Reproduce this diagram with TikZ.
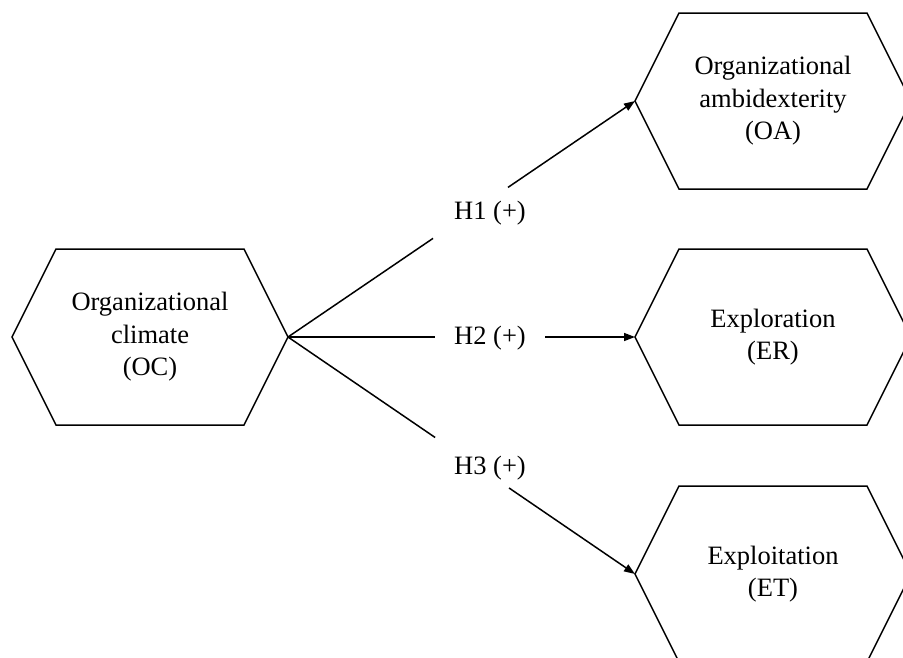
\documentclass[tikz,border=0pt]{standalone}
\usepackage{fontspec}
\setmainfont{Liberation Serif}
\usetikzlibrary{arrows.meta,calc}
\tikzset{
  hexline/.style={draw=black, line width=1.5pt, line join=miter},
  hextext/.style={align=center, font=\fontsize{26.5}{32.5}\selectfont, inner sep=0pt},
  conn/.style={line width=1.5pt},
  arr/.style={conn, -{Triangle[length=11pt,width=8pt]}},
  hlabel/.style={font=\fontsize{26.5}{32}\selectfont, inner sep=0pt},
}
\newcommand\hexshape[4]{%
  \node[hextext] (#1) at (#2,#3) {#4};
  \coordinate (#1-l) at (#2-138,#3);
  \coordinate (#1-r) at (#2+138,#3);
  \draw[hexline] (#1-l) -- ++(44,-88) -- ++(188,0) -- (#1-r) -- ++(-44,88) -- ++(-188,0) -- cycle;
}
\begin{document}
\begin{tikzpicture}[x=1pt,y=-1pt]
  \useasboundingbox (0,0) rectangle (903,657);
  \clip (0,0) rectangle (903,657);
  \fill[white] (0,0) rectangle (903,657);
  \hexshape{oc}{150}{337}{Organizational\\climate\\(OC)}
  \hexshape{oa}{773}{101}{Organizational\\ambidexterity\\(OA)}
  \hexshape{er}{773}{337}{Exploration\\(ER)}
  \hexshape{et}{773}{574}{Exploitation\\(ET)}
  \node[hlabel] (h1) at (490,213) {H1 (+)};
  \node[hlabel] (h2) at (490,338) {H2 (+)};
  \node[hlabel] (h3) at (490,468) {H3 (+)};
  \coordinate (h1a) at ($(oc-r)!0.418!(oa-l)$);
  \coordinate (h1b) at ($(oc-r)!0.634!(oa-l)$);
  \coordinate (h2a) at ($(oc-r)!0.424!(er-l)$);
  \coordinate (h2b) at ($(oc-r)!0.741!(er-l)$);
  \coordinate (h3a) at ($(oc-r)!0.424!(et-l)$);
  \coordinate (h3b) at ($(oc-r)!0.637!(et-l)$);
  \draw[conn] (oc-r) -- (h1a);
  \draw[arr] (h1b) -- (oa-l);
  \draw[conn] (oc-r) -- (h2a);
  \draw[arr] (h2b) -- (er-l);
  \draw[conn] (oc-r) -- (h3a);
  \draw[arr] (h3b) -- (et-l);
\end{tikzpicture}
\end{document}
